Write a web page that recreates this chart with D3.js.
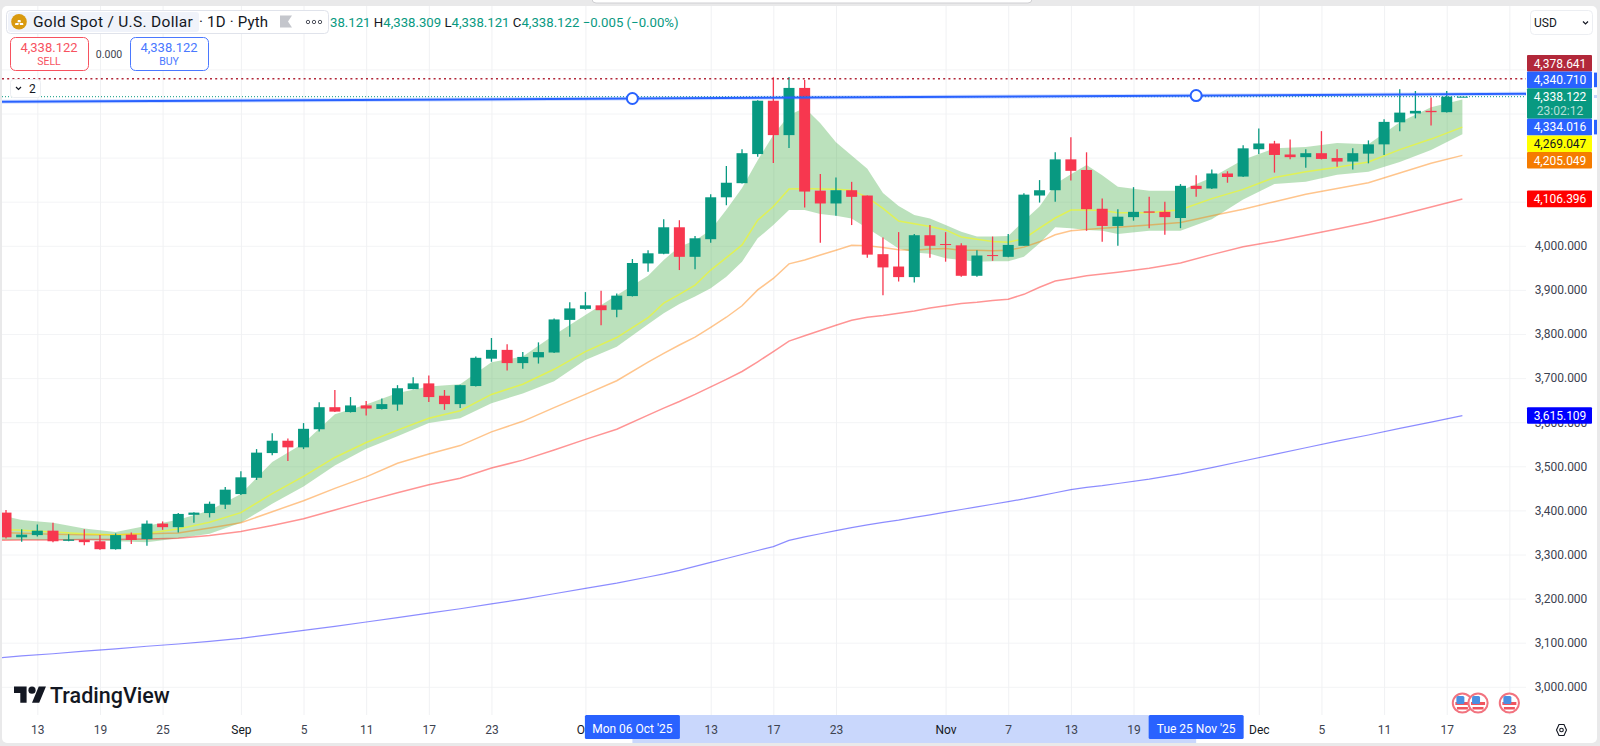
<!DOCTYPE html>
<html>
<head>
<meta charset="utf-8">
<script src="https://cdn.jsdelivr.net/npm/d3@7"></script>
<style>
    html, body { margin: 0; padding: 0; background: #e9e9ea; overflow: hidden; }
    svg { display: block; font-family: Roboto, sans-serif; }
</style>
</head>
<body>
<div id="plot-container"></div>
<script>
// weekdays shown on the time axis, first one sits just off the left edge
const dates = [
    "08-08",
    "08-11","08-12","08-13","08-14","08-15","08-18","08-19","08-20","08-21","08-22",
    "08-25","08-26","08-27","08-28","08-29","09-01","09-02","09-03","09-04","09-05",
    "09-08","09-09","09-10","09-11","09-12","09-15","09-16","09-17","09-18","09-19",
    "09-22","09-23","09-24","09-25","09-26","09-29","09-30","10-01","10-02","10-03",
    "10-06","10-07","10-08","10-09","10-10","10-13","10-14","10-15","10-16","10-17",
    "10-20","10-21","10-22","10-23","10-24","10-27","10-28","10-29","10-30","10-31",
    "11-03","11-04","11-05","11-06","11-07","11-10","11-11","11-12","11-13","11-14",
    "11-17","11-18","11-19","11-20","11-21","11-24","11-25","11-26","11-27","11-28",
    "12-01","12-02","12-03","12-04","12-05","12-08","12-09","12-10","12-11","12-12",
    "12-15","12-16","12-17","12-18","12-19","12-22","12-23"
];

// candles start on 08-11
const opens = [3395,3339,3344,3354,3331,3333,3330,3312,3345,3335,3370,3362,3390,3394,3413,3437,3474,3530,3558,3543,3584,3634,3623,3638,3630,3640,3675,3688,3660,3641,3682,3744,3764,3734,3747,3758,3832,3857,3865,3855,3886,3960,3982,4042,3975,4015,4110,4142,4208,4329,4251,4358,4125,4096,4126,4114,3981,3953,3929,4024,4004,4001,3932,3979,3975,4000,4114,4126,4196,4172,4084,4045,4065,4078,4077,4063,4136,4130,4164,4157,4219,4232,4207,4201,4210,4199,4191,4209,4230,4280,4300,4306,4303,4338.121];
const highs = [3401,3357,3368,3372,3346,3357,3344,3348,3350,3377,3375,3394,3396,3420,3453,3489,3539,3575,3563,3598,3645,3673,3657,3648,3654,3684,3702,3706,3673,3685,3749,3791,3777,3759,3781,3835,3872,3895,3898,3892,3970,3990,4060,4058,4022,4117,4181,4219,4330,4382,4383,4376,4163,4155,4145,4114,4019,4031,4027,4047,4031,4006,3990,4021,4027,4119,4149,4212,4246,4212,4107,4083,4133,4111,4100,4140,4160,4173,4169,4228,4266,4238,4241,4219,4260,4219,4221,4239,4287,4355,4351,4336,4351,4338.309];
const lows = [3336,3329,3341,3328,3330,3321,3311,3311,3324,3320,3356,3350,3372,3384,3403,3435,3469,3525,3512,3539,3579,3623,3622,3615,3629,3626,3675,3646,3628,3632,3681,3737,3717,3721,3733,3757,3794,3855,3820,3838,3885,3941,3981,3945,3947,4007,4092,4141,4202,4188,4222,4087,4007,4068,4047,3973,3888,3919,3917,3973,3964,3930,3930,3966,3974,4000,4098,4100,4148,4034,4009,4000,4057,4040,4025,4040,4111,4129,4143,4156,4208,4166,4196,4177,4196,4179,4173,4187,4206,4260,4289,4273,4302,4338.121];
const closes = [3339,3345,3354,3330,3334,3328,3312,3344,3333,3370,3362,3392,3395,3415,3447,3475,3531,3558,3543,3585,3634,3624,3638,3631,3641,3677,3688,3657,3641,3684,3746,3764,3734,3748,3759,3833,3858,3865,3854,3887,3961,3983,4042,3975,4017,4110,4143,4210,4329,4251,4358,4123,4096,4126,4111,3980,3951,3929,4024,4000,4002,3932,3978,3977,4002,4116,4126,4196,4170,4083,4045,4066,4077,4075,4065,4136,4129,4164,4156,4221,4232,4206,4201,4210,4197,4191,4210,4230,4281,4302,4306,4303,4338.127,4338.122];

// moving averages and band, read every second bar, every bar around the Oct/Nov turn
const sampleDates = dates.filter((d, i) => i <= 94 && (i % 2 === 0 || (i >= 43 && i <= 71)));
const maYellow = [3358,3355,3351,3347,3344,3348,3358,3373,3395,3438,3477,3520,3554,3582,3609,3626,3663,3686,3720,3760,3792,3837,3870,3890,3911,3945,3973,4002,4058,4089,4129,4130,4129,4128,4126,4110,4085,4056,4050,4044,4036,4020,4015,4010,4008,4016,4040,4063,4081,4081,4080,4075,4075,4082,4107,4128,4155,4168,4178,4190,4218,4242,4269];
const maOrange = [3351,3348,3346,3345,3345,3347,3349,3360,3372,3397,3422,3450,3476,3507,3528,3547,3578,3602,3633,3663,3694,3736,3756,3775,3793,3815,3838,3864,3900,3926,3959,3968,3979,3990,4001,4000,3996,3991,3990,3993,3994,3990,3990,3989,3990,3997,4009,4025,4034,4037,4040,4042,4047,4053,4068,4083,4100,4117,4130,4143,4165,4187,4205];
const maRed = [3332,3333,3333,3334,3334,3335,3337,3343,3352,3366,3381,3401,3421,3440,3458,3473,3496,3514,3537,3561,3584,3616,3632,3647,3663,3680,3697,3715,3737,3760,3784,3796,3808,3820,3831,3838,3842,3847,3852,3859,3864,3869,3872,3876,3879,3890,3906,3920,3926,3932,3936,3940,3949,3961,3980,3998,4010,4024,4038,4053,4070,4088,4106];
const maBlue = [3064,3070,3075,3081,3086,3092,3097,3103,3110,3119,3128,3137,3147,3157,3167,3177,3188,3199,3211,3223,3235,3249,3256,3264,3273,3282,3291,3300,3309,3318,3332,3340,3347,3354,3361,3367,3373,3378,3384,3390,3396,3402,3408,3414,3420,3426,3433,3440,3447,3452,3456,3461,3471,3483,3497,3512,3527,3542,3557,3571,3586,3600,3615];
const bandTop = [3395,3378,3372,3359,3351,3365,3379,3400,3437,3510,3552,3618,3640,3666,3681,3686,3736,3749,3798,3843,3888,3932,3968,3998,4012,4036,4082,4131,4194,4251,4296,4313,4278,4235,4205,4175,4120,4090,4070,4062,4047,4032,4021,4021,4022,4057,4089,4140,4162,4183,4160,4134,4125,4125,4155,4195,4221,4224,4233,4230,4280,4314,4332];
const bandBottom = [3333,3333,3333,3333,3330,3328,3337,3347,3372,3415,3454,3502,3540,3568,3598,3609,3643,3665,3693,3741,3771,3822,3847,3868,3885,3904,3930,3964,4017,4047,4081,4081,4072,4068,4062,4040,4017,3994,3985,3982,3972,3968,3964,3965,3965,3975,4006,4042,4040,4036,4034,4027,4034,4034,4060,4105,4140,4145,4161,4168,4190,4217,4253];

// axis
const priceTicks = d3.range(3000, 4500, 100);
const tickDates = ["08-13","08-19","08-25","09-01","09-05","09-11","09-17","09-23","10-01","10-13","10-17","10-23","11-03","11-07","11-13","11-19","12-01","12-05","12-11","12-17","12-23"];
const tickLabels = ["13","19","25","Sep","5","11","17","23","Oct","13","17","23","Nov","7","13","19","Dec","5","11","17","23"];
const eventDates = ["12-18","12-19","12-23"];

// drawing tool: two anchors and their prices
const trendDates = ["10-06","11-25"];
const trendPrices = [4334.016, 4340.71];
const trendLabels = ["Mon 06 Oct '25", "Tue 25 Nov '25"];
const athPrice = 4378.641;
const lastPrice = 4338.122;

// price tags on the right
const tagValues = [4378.641, 4340.71, 4338.122, 4334.016, 4269.047, 4205.049, 4106.396, 3615.109];
const tagTexts = ["4,378.641","4,340.710","4,338.122","4,334.016","4,269.047","4,205.049","4,106.396","3,615.109"];
const tagColors = ["#b2283a","#2962ff","#089981","#2962ff","#ffff00","#f57c00","#ff0000","#0000ff"];

const up = "#089981";
const down = "#f7374f";

function renderPlot() {
    const width = 1600;
    const height = 746;

    const pane = { left: 2, right: 1526, top: 6, bottom: 715 };

    const svg = d3.select('#plot-container')
        .append('svg')
        .attr('width', width)
        .attr('height', height);

    svg.append('rect')
        .attr('x', pane.left).attr('y', pane.top)
        .attr('width', 1597 - pane.left).attr('height', 743 - pane.top)
        .attr('rx', 5)
        .attr('fill', '#ffffff');

    // bit of a popup hanging from the top of the window
    svg.append('rect').attr('x', 592).attr('y', -6).attr('width', 440).attr('height', 9).attr('rx', 4)
        .attr('fill', '#fff').attr('stroke', '#cfcfd2');

    const x = d3.scalePoint().domain(dates).range([-9.66, 6 + 15.66 * 96]);
    const y = d3.scaleLinear().domain([3000, 4000]).range([686.8, 245.8]);

    svg.append('clipPath').attr('id', 'pane-clip').append('rect')
        .attr('x', pane.left).attr('y', pane.top)
        .attr('width', pane.right - pane.left).attr('height', pane.bottom - pane.top);

    // gridlines
    const gridY = svg.append('g')
        .attr('class', 'gridlines')
        .attr('transform', `translate(${pane.left}, 0)`)
        .call(d3.axisLeft(y).tickValues(priceTicks).tickFormat('').tickSize(-(pane.right - pane.left)));
    gridY.select('.domain').remove();
    gridY.selectAll('line').attr('stroke', '#f3f4f6');

    const gridX = svg.append('g')
        .attr('class', 'gridlines')
        .attr('transform', `translate(0, ${pane.bottom})`)
        .call(d3.axisBottom(x).tickValues(tickDates).tickFormat('').tickSize(-(pane.bottom - pane.top)));
    gridX.select('.domain').remove();
    gridX.selectAll('line').attr('stroke', '#f0f1f3');

    const plot = svg.append('g').attr('clip-path', 'url(#pane-clip)');

    // band
    const area = d3.area()
        .x((d, i) => x(sampleDates[i]))
        .y0((d, i) => y(bandBottom[i]))
        .y1((d, i) => y(bandTop[i]));
    plot.append('path')
        .attr('d', area(bandTop))
        .attr('fill', '#4caf50')
        .attr('fill-opacity', 0.38);

    // moving averages
    const line = d3.line().x((d, i) => x(sampleDates[i])).y(d => y(d));
    [[maBlue, '#0000ff', 0.45, 1.2], [maRed, '#ff0000', 0.42, 1.5], [maOrange, '#ff7f00', 0.45, 1.5], [maYellow, '#ffff00', 0.55, 1.5]]
        .forEach(([values, color, alpha, w]) => {
            plot.append('path')
                .attr('d', line(values))
                .attr('fill', 'none')
                .attr('stroke', color)
                .attr('stroke-opacity', alpha)
                .attr('stroke-width', w);
        });

    // candles
    const candles = plot.append('g').selectAll('g')
        .data(opens.map((o, i) => ({ date: dates[i + 1], o, h: highs[i], l: lows[i], c: closes[i] })))
        .enter().append('g');

    candles.append('line')
        .attr('x1', d => x(d.date)).attr('x2', d => x(d.date))
        .attr('y1', d => y(d.h)).attr('y2', d => y(d.l))
        .attr('stroke', d => d.c >= d.o ? up : down)
        .attr('stroke-width', 1.3);

    candles.append('rect')
        .attr('x', d => x(d.date) - 5.5)
        .attr('width', 11)
        .attr('y', d => y(Math.max(d.o, d.c)))
        .attr('height', d => Math.max(1, Math.abs(y(d.o) - y(d.c))))
        .attr('fill', d => d.c >= d.o ? up : down);

    // ATH dotted line and last price line
    plot.append('line')
        .attr('x1', pane.left).attr('x2', pane.right)
        .attr('y1', y(athPrice)).attr('y2', y(athPrice))
        .attr('stroke', '#b2283a').attr('stroke-width', 1.5).attr('stroke-dasharray', '2 3.2');
    plot.append('line')
        .attr('x1', pane.left).attr('x2', pane.right)
        .attr('y1', y(lastPrice)).attr('y2', y(lastPrice))
        .attr('stroke', up).attr('stroke-width', 1).attr('stroke-dasharray', '1 2');

    // trend line extended both ways through its two anchors
    const trendX = trendDates.map(d => x(d));
    const trendY = trendPrices.map(d => y(d));
    const slope = (trendY[1] - trendY[0]) / (trendX[1] - trendX[0]);
    [[4, 0.2], [2, 1]].forEach(([w, alpha]) => {
        plot.append('line')
            .attr('x1', pane.left).attr('x2', pane.right)
            .attr('y1', trendY[0] + (pane.left - trendX[0]) * slope)
            .attr('y2', trendY[0] + (pane.right - trendX[0]) * slope)
            .attr('stroke', '#2962ff').attr('stroke-width', w).attr('stroke-opacity', alpha);
    });
    plot.selectAll('.anchor').data(trendDates).enter().append('circle')
        .attr('class', 'anchor')
        .attr('cx', d => x(d))
        .attr('cy', (d, i) => trendY[i])
        .attr('r', 5.5)
        .attr('fill', '#fff')
        .attr('stroke', '#2962ff')
        .attr('stroke-width', 2);

    // events
    const events = svg.append('g').selectAll('g').data(eventDates).enter().append('g')
        .attr('transform', d => `translate(${x(d)}, 703)`);
    events.append('circle').attr('r', 9.6).attr('fill', '#fff').attr('stroke', '#f2737f').attr('stroke-width', 2);
    events.append('rect').attr('x', -7).attr('y', -1).attr('width', 14).attr('height', 3).attr('fill', '#f0555f');
    events.append('rect').attr('x', -5.5).attr('y', 4).attr('width', 11).attr('height', 2.5).attr('fill', '#f0555f');
    events.append('rect').attr('x', -6).attr('y', -7).attr('width', 8).attr('height', 8).attr('rx', 1.5).attr('fill', '#4a90e2');

    // time axis
    const timeAxis = svg.append('g')
        .attr('transform', `translate(0, ${pane.bottom})`)
        .call(d3.axisBottom(x).tickValues(tickDates).tickSize(0).tickFormat((d, i) => tickLabels[i]));
    timeAxis.select('.domain').remove();
    timeAxis.selectAll('text')
        .attr('y', 15)
        .attr('dy', '0.35em')
        .attr('font-family', 'Roboto, sans-serif')
        .attr('font-size', 12)
        .attr('fill', (d, i) => /[a-z]/.test(tickLabels[i]) ? '#131722' : '#3d4350');

    // selected range on the time axis
    const range = svg.append('g');
    range.append('rect')
        .attr('x', trendX[0]).attr('y', pane.bottom)
        .attr('width', trendX[1] - trendX[0]).attr('height', 28)
        .attr('fill', '#c9d7fc');
    svg.node().appendChild(timeAxis.node());
    trendDates.forEach((d, i) => {
        const g = svg.append('g').attr('transform', `translate(${x(d)}, ${pane.bottom})`);
        g.append('rect').attr('x', -47.5).attr('y', 0).attr('width', 95).attr('height', 24).attr('rx', 1.5).attr('fill', '#2962ff');
        g.append('text').attr('y', 14).attr('dy', '0.35em').attr('text-anchor', 'middle')
            .attr('font-size', 12).attr('fill', '#fff').text(trendLabels[i]);
    });

    // price axis, labels above 4,000 sit under the tags so they stay empty
    const priceFormat = d3.format(',.3f');
    const priceAxis = svg.append('g')
        .attr('transform', `translate(${pane.right}, 0)`)
        .call(d3.axisRight(y).tickValues(priceTicks).tickSize(0).tickFormat(d => d > 4000 ? '' : priceFormat(d)));
    priceAxis.select('.domain').remove();
    priceAxis.selectAll('text')
        .attr('x', 35)
        .attr('text-anchor', 'middle')
        .attr('font-family', 'Roboto, sans-serif')
        .attr('font-size', 12)
        .attr('fill', '#3d4350');

    // price tags, the first six are stacked, the other two sit on their price
    let stackTop = 55;
    tagValues.forEach((v, i) => {
        const h = i === 2 ? 30.6 : 16.6;
        const top = i < 6 ? stackTop : y(v) - h / 2;
        stackTop += h;
        const g = svg.append('g').attr('transform', `translate(1527, ${top})`);
        g.append('rect').attr('width', 65).attr('height', h).attr('rx', 1).attr('fill', tagColors[i]);
        g.append('text').attr('x', 33).attr('y', 8.3).attr('dy', '0.35em').attr('text-anchor', 'middle')
            .attr('font-size', 12)
            .attr('fill', tagColors[i] === '#ffff00' ? '#131722' : '#fff')
            .text(tagTexts[i]);
        if (i === 2) {
            g.append('text').attr('x', 33).attr('y', 22.6).attr('dy', '0.35em').attr('text-anchor', 'middle')
                .attr('font-size', 12).attr('fill', '#fff').attr('fill-opacity', 0.7).text('23:02:12');
        }
        if (i === 1 || i === 3) {
            svg.append('rect').attr('x', 1594).attr('y', top + 1).attr('width', 3).attr('height', h - 2).attr('fill', '#2962ff');
        }
    });
    svg.append('rect').attr('x', 1594).attr('y', 95).attr('width', 3).attr('height', 3).attr('fill', '#c5d5fc');

    // USD button
    svg.append('rect').attr('x', 1530.5).attr('y', 10.5).attr('width', 62).attr('height', 24).attr('rx', 4)
        .attr('fill', '#fff').attr('stroke', '#eceef2');
    svg.append('text').attr('x', 1534).attr('y', 22.5).attr('dy', '0.35em').attr('font-size', 12).attr('fill', '#131722').text('USD');
    svg.append('path').attr('d', 'M1583 21.5l2.5 2.5 2.5-2.5').attr('fill', 'none').attr('stroke', '#131722').attr('stroke-width', 1.2);

    // settings hexagon
    svg.append('path').attr('d', 'M1556.5 730l2.5-5.5h5l2.5 5.5-2.5 5.5h-5z').attr('fill', 'none').attr('stroke', '#131722').attr('stroke-width', 1.1);
    svg.append('circle').attr('cx', 1561.5).attr('cy', 730).attr('r', 1.8).attr('fill', 'none').attr('stroke', '#131722').attr('stroke-width', 1.1);

    // legend box
    svg.append('rect').attr('x', 6.5).attr('y', 10.5).attr('width', 322).attr('height', 23).attr('rx', 4)
        .attr('fill', '#fff').attr('stroke', '#e0e3eb');
    svg.append('rect').attr('x', 8).attr('y', 12).attr('width', 191).attr('height', 20).attr('rx', 3).attr('fill', '#f0f3fa');
    svg.append('circle').attr('cx', 19).attr('cy', 21.7).attr('r', 7.8).attr('fill', '#d99a10');
    svg.append('path').attr('d', 'M15 25h3.4l.4-2h-3.4zM20 25h3.4l-.4-2h-3.4zM17.5 22.2h3.4l-.4-2.2h-2.6z').attr('fill', '#fff');
    svg.append('text').attr('x', 33).attr('y', 22).attr('dy', '0.35em').attr('font-size', 15.5).attr('letter-spacing', 0.3).attr('fill', '#131722').text('Gold Spot / U.S. Dollar');
    svg.append('text').attr('x', 199).attr('y', 22).attr('dy', '0.35em').attr('font-size', 15).attr('letter-spacing', 0.2).attr('fill', '#131722').text('· 1D · Pyth');
    svg.append('path').attr('d', 'M280 15.5h12l-4 6 4 6h-12z').attr('fill', '#c4c6cc');
    svg.selectAll('.more').data([308, 314, 320]).enter().append('circle')
        .attr('class', 'more').attr('cx', d => d).attr('cy', 22).attr('r', 1.7)
        .attr('fill', 'none').attr('stroke', '#50535e').attr('stroke-width', 1);

    // OHLC readout
    const ohlc = svg.append('text').attr('x', 330).attr('y', 22).attr('dy', '0.35em').attr('font-size', 13.2).attr('fill', up);
    [['38.121 ', up], ['H', '#131722'], ['4,338.309 ', up], ['L', '#131722'], ['4,338.121 ', up], ['C', '#131722'], ['4,338.122 ', up], ['−0.005 (−0.00%)', up]]
        .forEach(([t, c]) => ohlc.append('tspan').attr('fill', c).attr('xml:space', 'preserve').text(t));

    // sell and buy
    [[10, '#f7525f', '4,338.122', 'SELL'], [130, '#4a78ff', '4,338.122', 'BUY']].forEach(([bx, c, price, label]) => {
        svg.append('rect').attr('x', bx + 0.5).attr('y', 37.5).attr('width', 78).attr('height', 33).attr('rx', 5)
            .attr('fill', '#fff').attr('stroke', c);
        svg.append('text').attr('x', bx + 39).attr('y', 47.5).attr('dy', '0.35em').attr('text-anchor', 'middle')
            .attr('font-size', 13).attr('fill', c).text(price);
        svg.append('text').attr('x', bx + 39).attr('y', 61).attr('dy', '0.35em').attr('text-anchor', 'middle')
            .attr('font-size', 10.5).attr('fill', c).text(label);
    });
    svg.append('text').attr('x', 109).attr('y', 54).attr('dy', '0.35em').attr('text-anchor', 'middle')
        .attr('font-size', 10.5).attr('fill', '#3d4350').text('0.000');

    // collapsed drawings
    svg.append('rect').attr('x', 10.5).attr('y', 79.5).attr('width', 30).attr('height', 18).attr('rx', 3)
        .attr('fill', '#fff').attr('stroke', '#eceef2');
    svg.append('path').attr('d', 'M16 87l2.5 2.5 2.5-2.5').attr('fill', 'none').attr('stroke', '#131722').attr('stroke-width', 1.2);
    svg.append('text').attr('x', 29).attr('y', 88.5).attr('dy', '0.35em').attr('font-size', 12).attr('fill', '#131722').text('2');

    // logo
    const logo = svg.append('g').attr('transform', 'translate(14, 683) scale(0.9)').attr('fill', '#131722');
    logo.append('path').attr('d', 'M14 22H7V11H0V4h14v18zM28 22h-8l7.5-18h8L28 22z');
    logo.append('circle').attr('cx', 20).attr('cy', 8).attr('r', 4);
    svg.append('text').attr('x', 50).attr('y', 695).attr('dy', '0.35em').attr('font-size', 21.5).attr('font-weight', 500).attr('fill', '#131722').text('TradingView');
}

renderPlot();
</script>
</body>
</html>
